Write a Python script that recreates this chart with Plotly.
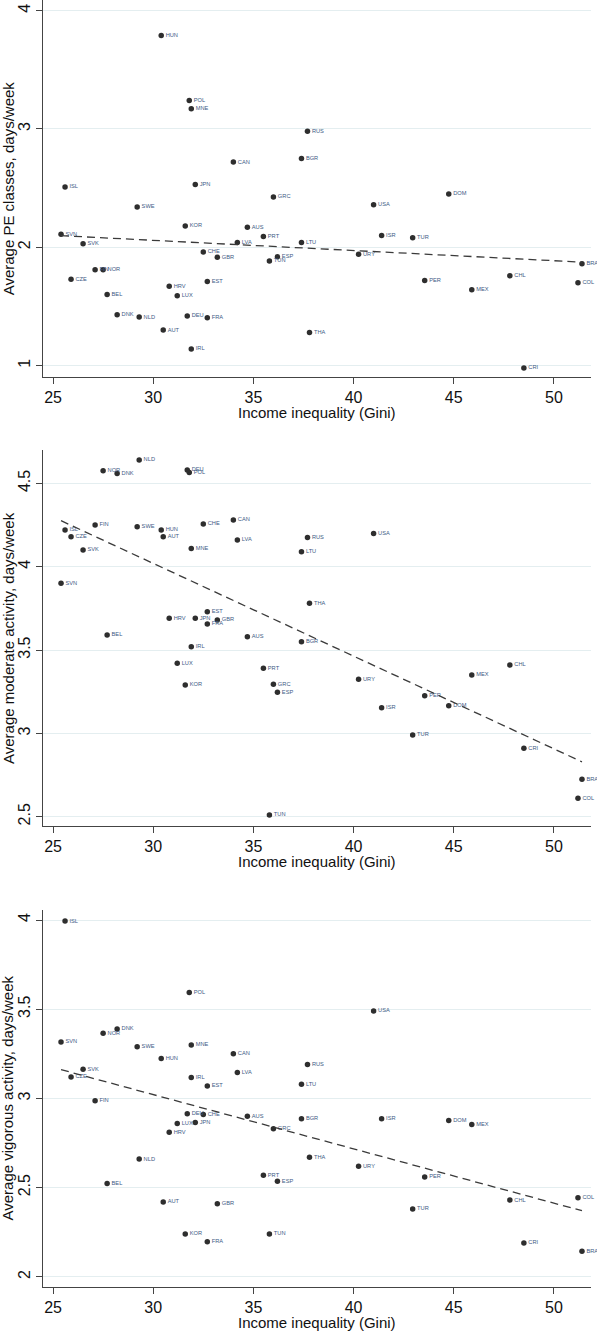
import numpy as np
import plotly.graph_objects as go

countries = ["HUN","POL","MNE","CAN","ISL","JPN","GRC","SWE","RUS","BGR","DOM","USA","KOR","AUS","PRT",
             "SVN","SVK","LVA","CHE","GBR","ESP","TUN","FIN","NOR","CZE","HRV","EST","BEL","LUX","DNK",
             "NLD","DEU","FRA","AUT","IRL","ISR","TUR","LTU","URY","BRA","CHL","PER","COL","MEX","THA","CRI"]

gini = [30.4, 31.8, 31.9, 34.0, 25.6, 32.1, 36.0, 29.2, 37.7, 37.4, 44.75, 41.0, 31.6, 34.7, 35.5,
        25.4, 26.5, 34.2, 32.5, 33.2, 36.2, 35.8, 27.1, 27.5, 25.9, 30.8, 32.7, 27.7, 31.2, 28.2,
        29.3, 31.7, 32.7, 30.5, 31.9, 41.4, 42.95, 37.4, 40.25, 51.4, 47.8, 43.55, 51.2, 45.9, 37.8, 48.5]

pe_classes = [3.79, 3.24, 3.17, 2.72, 2.51, 2.53, 2.425, 2.34, 2.98, 2.75, 2.45, 2.36, 2.18, 2.17, 2.09,
              2.11, 2.03, 2.04, 1.96, 1.915, 1.92, 1.885, 1.81, 1.81, 1.73, 1.67, 1.71, 1.60, 1.59, 1.43,
              1.41, 1.42, 1.405, 1.30, 1.14, 2.10, 2.08, 2.04, 1.94, 1.86, 1.76, 1.72, 1.70, 1.64, 1.28, 0.98]

moderate = [4.22, 4.566, 4.11, 4.28, 4.22, 3.69, 3.295, 4.24, 4.176, 3.55, 3.166, 4.20, 3.29, 3.58, 3.39,
            3.90, 4.10, 4.16, 4.256, 3.68, 3.246, 2.51, 4.25, 4.576, 4.18, 3.69, 3.73, 3.59, 3.42, 4.56,
            4.64, 4.58, 3.656, 4.18, 3.52, 3.154, 2.99, 4.09, 3.325, 2.725, 3.41, 3.226, 2.61, 3.35, 3.78, 2.91]

vigorous = [3.224, 3.594, 3.30, 3.25, 3.994, 2.865, 2.83, 3.29, 3.19, 2.886, 2.877, 3.49, 2.24, 2.90, 2.57,
            3.316, 3.163, 3.146, 2.91, 2.41, 2.536, 2.24, 2.987, 3.366, 3.12, 2.81, 3.07, 2.523, 2.86, 3.389,
            2.66, 2.914, 2.196, 2.42, 3.118, 2.886, 2.38, 3.08, 2.62, 2.144, 2.43, 2.56, 2.443, 2.854, 2.67, 2.19]

x_ticks = [25, 30, 35, 40, 45, 50]
y_ticks_pe = [1, 2, 3, 4]
y_ticks_mod = [2.5, 3, 3.5, 4, 4.5]
y_ticks_vig = [2, 2.5, 3, 3.5, 4]

y_titles = ["Average PE classes, days/week",
            "Average moderate activity, days/week",
            "Average vigorous activity, days/week"]
x_title = "Income inequality (Gini)"

FONT = "Liberation Sans, Arial, Helvetica, sans-serif"
W, H = 597, 1331
ML, MR, MT, MB = 43, 6, 0, 44
PW, PH = W - ML - MR, H - MT - MB

panels = [
    (pe_classes, y_ticks_pe, [0.906, 4.09], [0.7073, 1.0]),
    (moderate, y_ticks_mod, [2.444, 4.70], [0.3582, 0.6503]),
    (vigorous, y_ticks_vig, [1.943, 4.056], [0.0, 0.2929]),
]

fig = go.Figure()
layout = dict(
    width=W, height=H,
    margin=dict(l=ML, r=MR, t=MT, b=MB),
    paper_bgcolor="white", plot_bgcolor="white",
    showlegend=False,
    font=dict(family=FONT, color="#222"),
)
annotations = []

gx = np.array(gini)
for i, (vals, yt, yr, dom) in enumerate(panels):
    n = "" if i == 0 else str(i + 1)
    xa, ya = "x" + n, "y" + n
    fig.add_trace(go.Scatter(
        x=gini, y=vals, mode="markers+text", text=countries,
        textposition="middle right",
        textfont=dict(size=5.7, color="#3d5a85", family=FONT),
        marker=dict(size=5.5, color="#2e2e2e"),
        xaxis=xa, yaxis=ya, cliponaxis=False, hoverinfo="skip"))
    slope, icpt = np.polyfit(gx, np.array(vals), 1)
    xs = np.array([gx.min(), gx.max()])
    fig.add_trace(go.Scatter(
        x=xs, y=slope * xs + icpt, mode="lines",
        line=dict(color="#3a3a3a", width=1.3, dash="8px,5px"),
        xaxis=xa, yaxis=ya, hoverinfo="skip"))
    layout["xaxis" + n] = dict(
        domain=[0, 1], anchor=ya, range=[24.5, 51.85], automargin=False,
        tickmode="array", tickvals=x_ticks,
        showline=True, linecolor="#444", linewidth=1.2,
        ticks="outside", ticklen=6, tickcolor="#444",
        showgrid=False, zeroline=False,
        tickfont=dict(size=16, family=FONT, color="#111"),
    )
    layout["yaxis" + n] = dict(
        domain=dom, anchor=xa, range=yr, automargin=False,
        tickmode="array", tickvals=yt, tickangle=-90, ticklabelstandoff=0,
        showline=True, linecolor="#444", linewidth=1.2,
        ticks="outside", ticklen=6, tickcolor="#444",
        showgrid=True, gridcolor="#e4eef0", gridwidth=1, zeroline=False,
        tickfont=dict(size=16, family=FONT, color="#111"),
    )
    bottom_px = MT + (1 - dom[0]) * PH
    annotations.append(dict(
        text=x_title, xref="paper", yref="paper",
        x=0.5, y=1 - (bottom_px + 35.6 - MT) / PH,
        xanchor="center", yanchor="middle", showarrow=False,
        font=dict(size=15, family=FONT, color="#111")))
    annotations.append(dict(
        text=y_titles[i], xref="paper", yref="paper",
        x=(8 - ML) / PW, y=(dom[0] + dom[1]) / 2, textangle=-90,
        xanchor="center", yanchor="middle", showarrow=False,
        font=dict(size=15, family=FONT, color="#111")))

layout["annotations"] = annotations
fig.update_layout(**layout)
fig.write_html("out.html", config={"displayModeBar": False},
               post_script="document.body.style.margin='0';document.body.style.padding='0';")
